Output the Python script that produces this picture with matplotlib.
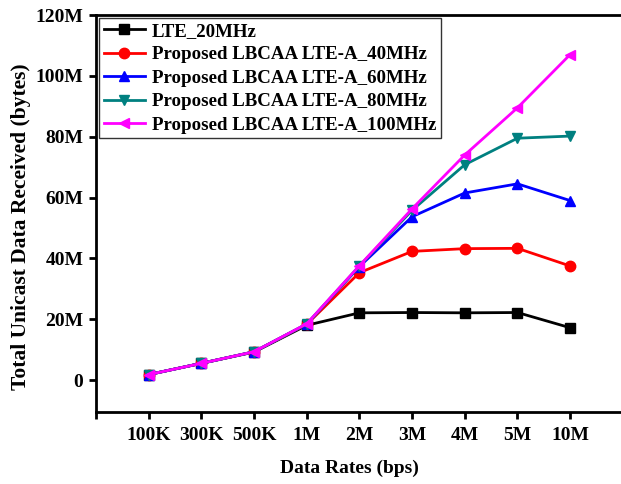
import numpy as np
import matplotlib
matplotlib.use("Agg")
import matplotlib.pyplot as plt
from matplotlib.ticker import FuncFormatter

plt.rcParams['font.family'] = ['Liberation Serif', 'DejaVu Serif']
plt.rcParams['font.weight'] = 'bold'

# Data (values in millions of bytes)
rates = ['100K', '300K', '500K', '1M', '2M', '3M', '4M', '5M', '10M']
lte_20 = [1.8, 5.5, 9.2, 18.0, 22.1, 22.2, 22.1, 22.2, 17.2]
lbcaa_40 = [1.8, 5.5, 9.3, 18.3, 35.3, 42.3, 43.2, 43.3, 37.5]
lbcaa_60 = [1.8, 5.5, 9.3, 18.4, 37.3, 53.7, 61.5, 64.5, 59.0]
lbcaa_80 = [1.8, 5.5, 9.3, 18.4, 37.5, 55.8, 70.8, 79.5, 80.2]
lbcaa_100 = [1.8, 5.5, 9.3, 18.5, 37.6, 56.3, 74.0, 89.5, 107.0]

series = [
    ('LTE_20MHz', lte_20, 'black', 's'),
    ('Proposed LBCAA LTE-A_40MHz', lbcaa_40, 'red', 'o'),
    ('Proposed LBCAA LTE-A_60MHz', lbcaa_60, 'blue', '^'),
    ('Proposed LBCAA LTE-A_80MHz', lbcaa_80, '#008080', 'v'),
    ('Proposed LBCAA LTE-A_100MHz', lbcaa_100, 'magenta', '<'),
]

fig = plt.figure(figsize=(6.21, 4.84), dpi=100)
ax = fig.add_axes([96 / 621, 72 / 484, 540 / 621, 397 / 484])

x = np.arange(len(rates))
for label, vals, color, marker in series:
    ax.plot(x, np.array(vals) * 1e6, color=color, marker=marker, markersize=7.5,
            linewidth=2, label=label)

ax.set_xlim(-1, 9.25)
ax.set_ylim(-10.5e6, 120e6)
ax.set_xticks(np.arange(-1, len(rates)))
ax.set_xticklabels([''] + rates)
ax.set_yticks(np.arange(0, 121e6, 20e6))
ax.yaxis.set_major_formatter(FuncFormatter(lambda v, p: '0' if v == 0 else f'{int(v / 1e6)}M'))

ax.tick_params(direction='out', length=5, width=2, labelsize=14, pad=4)
ax.tick_params(axis='x', pad=6)
for lbl in ax.get_xticklabels() + ax.get_yticklabels():
    lbl.set_fontweight('bold')
for s in ax.spines.values():
    s.set_linewidth(2)

ax.set_xlabel('Data Rates (bps)', fontsize=14, fontweight='bold')
ax.set_ylabel('Total Unicast Data Received (bytes)', fontsize=15.5, fontweight='bold')
ax.xaxis.set_label_coords(0.47, -0.12)
ax.yaxis.set_label_coords(-0.12, 0.466)

leg = ax.legend(loc='upper left', bbox_to_anchor=(0.0, 1.0), fontsize=13.6, frameon=True,
                fancybox=False, edgecolor='black', handlelength=2.2, labelspacing=0.33,
                borderaxespad=0.15, borderpad=0.25, handletextpad=0.35)
leg.get_frame().set_linewidth(1)
for t in leg.get_texts():
    t.set_fontweight('bold')

fig.savefig('out.png', dpi=100)
